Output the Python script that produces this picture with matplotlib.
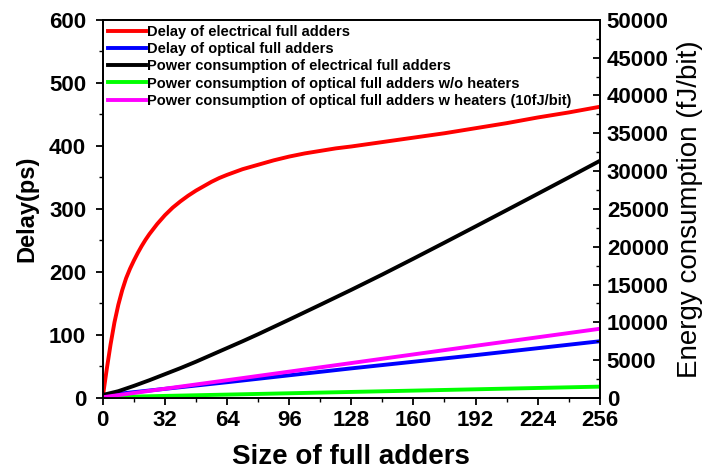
import numpy as np
import matplotlib
matplotlib.use('Agg')
import matplotlib.pyplot as plt
from matplotlib.ticker import MultipleLocator

plt.rcParams['font.family'] = ['Liberation Sans', 'DejaVu Sans']

# delay (ps), left axis
x_red = [0, 2, 4, 6, 8, 10, 12, 14, 16, 18, 20, 22, 24, 26, 28, 30, 32, 36, 40, 44, 48,
         52, 56, 60, 64, 72, 80, 88, 96, 104, 112, 120, 128, 144, 160, 176, 192, 208,
         224, 240, 256]
delay_elec = [2, 45, 85, 120, 148, 171, 190, 205, 218, 230, 241, 251, 260, 268, 276, 283,
              290, 302, 312, 321, 329, 336, 343, 349, 354, 363, 370, 377, 383, 388, 392,
              396, 399, 406, 413, 420, 428, 436, 445, 453, 462]
x_blue = [0, 64, 128, 192, 256]
delay_opt = [4, 25, 47, 68, 90]

# energy (fJ/bit), right axis
x_black = [0, 8, 16, 24, 32, 40, 48, 56, 64, 72, 80, 96, 112, 128, 144, 160, 176, 192,
           208, 224, 240, 256]
energy_elec = [400, 900, 1600, 2350, 3150, 3950, 4800, 5700, 6600, 7500, 8430, 10360,
               12320, 14300, 16330, 18420, 20540, 22680, 24830, 26990, 29160, 31350]
x_mag = [0, 64, 128, 192, 256]
energy_opt_heat = [100, 2350, 4620, 6900, 9150]
x_green = [0, 256]
energy_opt = [100, 1500]

labels = ['Delay of electrical full adders',
          'Delay of optical full adders',
          'Power consumption of electrical full adders',
          'Power consumption of optical full adders w/o heaters',
          'Power consumption of optical full adders w heaters (10fJ/bit)']

fig = plt.figure(figsize=(7.09, 4.71), dpi=100)
ax = fig.add_axes([0.145, 0.155, 0.701, 0.803])
ax2 = ax.twinx()

lw = 2.8
l1, = ax.plot(x_red, delay_elec, color='#ff0000', lw=lw, label=labels[0])
l2, = ax.plot(x_blue, delay_opt, color='#0000ff', lw=lw, label=labels[1])
l3, = ax2.plot(x_black, energy_elec, color='black', lw=lw, label=labels[2])
l4, = ax2.plot(x_green, energy_opt, color='#00ff00', lw=lw, label=labels[3])
l5, = ax2.plot(x_mag, energy_opt_heat, color='#ff00ff', lw=lw, label=labels[4])

ax.set_xlim(0, 256)
ax.set_ylim(0, 600)
ax2.set_ylim(0, 50000)

ax.xaxis.set_major_locator(MultipleLocator(32))
ax.xaxis.set_minor_locator(MultipleLocator(16))
ax.yaxis.set_major_locator(MultipleLocator(100))
ax.yaxis.set_minor_locator(MultipleLocator(50))
ax2.yaxis.set_major_locator(MultipleLocator(5000))
ax2.yaxis.set_minor_locator(MultipleLocator(2500))

for a in (ax, ax2):
    for s in a.spines.values():
        s.set_linewidth(1.3)
ax.tick_params(axis='x', which='major', direction='out', length=5, width=1.3,
               labelsize=16, pad=4)
ax.tick_params(axis='y', which='major', direction='out', length=5, width=1.3,
               labelsize=16, pad=7)
ax.tick_params(axis='both', which='minor', direction='out', length=3, width=1.0)
ax2.tick_params(axis='y', which='major', direction='in', length=5, width=1.3,
                labelsize=16, pad=5)
ax2.tick_params(axis='y', which='minor', direction='in', length=3, width=1.0)
for t in ax.get_xticklabels() + ax.get_yticklabels() + ax2.get_yticklabels():
    t.set_fontweight('bold')

ax.set_xlabel('Size of full adders', fontsize=20, fontweight='bold', labelpad=9)
ax.set_ylabel('Delay(ps)', fontsize=17, fontweight='bold', labelpad=8)
ax2.set_ylabel('Energy consumption (fJ/bit)', fontsize=20, labelpad=6)

ax2.legend(handles=[l1, l2, l3, l4, l5], loc='upper left', frameon=False,
           prop={'weight': 'bold', 'size': 10.5}, handlelength=2.6,
           handletextpad=0.1, labelspacing=0.22, borderaxespad=0.15,
           borderpad=0.2)

fig.savefig('out.png', dpi=100)
